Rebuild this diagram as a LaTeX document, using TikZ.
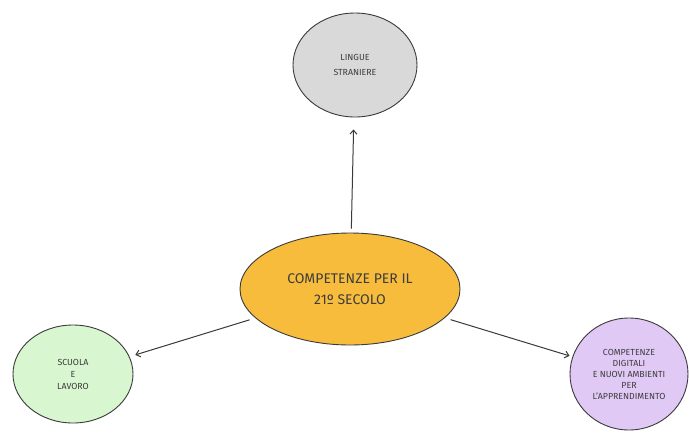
\documentclass[tikz,border=0pt]{standalone}
\usepackage{fontspec}
\setmainfont{Fira Sans}
\usetikzlibrary{shapes.geometric,arrows.meta}
\definecolor{lineC}{HTML}{3A3A3A}
\definecolor{textC}{HTML}{3C3C3C}
\definecolor{grayF}{HTML}{D9D9D9}
\definecolor{orangeF}{HTML}{F8BC3C}
\definecolor{greenF}{HTML}{D8F7D0}
\definecolor{lilacF}{HTML}{E1C9F6}
\tikzset{
  bubble/.style={ellipse,draw=lineC,line width=0.9pt,inner sep=0pt,align=center,text=textC},
  arr/.style={draw=lineC,line width=1pt,-{Straight Barb[length=4pt,width=7pt]}}
}
\begin{document}
\begin{tikzpicture}[x=1pt,y=-1pt]
\useasboundingbox (0,0) rectangle (689,432);
\fill[white] (0,0) rectangle (689,432);
\node[bubble,fill=grayF,minimum width=124pt,minimum height=104pt,font=\fontsize{8.8}{15}\selectfont] (top) at (355,65) {LINGUE\\STRANIERE};
\node[bubble,fill=orangeF,minimum width=220pt,minimum height=112pt,font=\fontsize{14}{21}\selectfont] (c) at (350,289) {COMPETENZE PER IL\\21º SECOLO};
\node[bubble,fill=greenF,minimum width=120pt,minimum height=98pt,font=\fontsize{8.8}{12}\selectfont] (l) at (73,374) {SCUOLA\\E\\LAVORO};
\node[bubble,fill=lilacF,minimum width=118pt,minimum height=112pt,font=\fontsize{8.8}{11}\selectfont] (r) at (629,374) {COMPETENZE\\DIGITALI\\E NUOVI AMBIENTI\\PER\\L'APPRENDIMENTO};
\draw[arr,shorten <=4pt,shorten >=12pt] (c) -- (top);
\draw[arr,shorten <=6pt,shorten >=6pt] (c) -- (l);
\draw[arr,shorten <=6pt,shorten >=3pt] (c) -- (r);
\end{tikzpicture}
\end{document}
